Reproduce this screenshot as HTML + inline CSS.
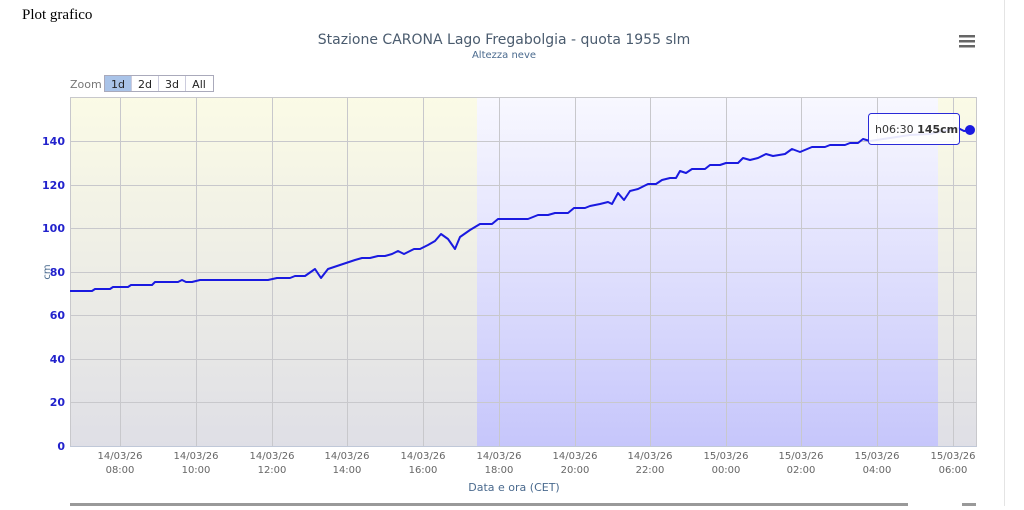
<!DOCTYPE html><html><head><style>
body{margin:0;width:1024px;height:506px;background:#fff;overflow:hidden;font-family:"DejaVu Sans","Liberation Sans",sans-serif}
</style></head><body>
<svg width="1024" height="506" xmlns="http://www.w3.org/2000/svg">
<defs>
<linearGradient id="y" x1="0" y1="0" x2="0" y2="1"><stop offset="0" stop-color="#fbfbe6"/><stop offset="1" stop-color="#dfdfe6"/></linearGradient>
<linearGradient id="b" x1="0" y1="0" x2="0" y2="1"><stop offset="0" stop-color="#f8f8ff"/><stop offset="1" stop-color="#c6c6fb"/></linearGradient>
</defs>
<text x="22" y="19" font-family="Liberation Serif,serif" font-size="15" fill="#000">Plot grafico</text>
<text x="504" y="44" text-anchor="middle" font-size="14" fill="#4a5b6e">Stazione CARONA Lago Fregabolgia - quota 1955 slm</text>
<text x="504" y="58" text-anchor="middle" font-size="10" fill="#4a6a8e">Altezza neve</text>
<g fill="#666"><rect x="959" y="35" width="16" height="2.5"/><rect x="959" y="40" width="16" height="2.5"/><rect x="959" y="45" width="16" height="2.5"/></g>
<text x="70" y="88" font-size="11" fill="#777">Zoom</text>
<rect x="104.5" y="75.5" width="109" height="16" fill="#fff" stroke="#aab"/>
<rect x="105" y="76" width="26" height="15" fill="#a9c3e8"/>
<line x1="131.5" y1="76" x2="131.5" y2="91" stroke="#ccd"/><line x1="158.5" y1="76" x2="158.5" y2="91" stroke="#ccd"/><line x1="185.5" y1="76" x2="185.5" y2="91" stroke="#ccd"/>
<g font-size="11" fill="#222" text-anchor="middle"><text x="118" y="88">1d</text><text x="145" y="88">2d</text><text x="172" y="88">3d</text><text x="199" y="88">All</text></g>
<rect x="70" y="97" width="407" height="349" fill="url(#y)"/>
<rect x="477" y="97" width="461" height="349" fill="url(#b)"/>
<rect x="938" y="97" width="39" height="349" fill="url(#y)"/>
<g stroke="#c8c8cc" stroke-width="1">
<line x1="70" y1="97.5" x2="977" y2="97.5"/>
<line x1="70" y1="141.5" x2="977" y2="141.5"/><line x1="70" y1="185.5" x2="977" y2="185.5"/><line x1="70" y1="228.5" x2="977" y2="228.5"/><line x1="70" y1="272.5" x2="977" y2="272.5"/><line x1="70" y1="315.5" x2="977" y2="315.5"/><line x1="70" y1="359.5" x2="977" y2="359.5"/><line x1="70" y1="402.5" x2="977" y2="402.5"/>
<line x1="120.5" y1="97" x2="120.5" y2="446"/><line x1="196.5" y1="97" x2="196.5" y2="446"/><line x1="272.5" y1="97" x2="272.5" y2="446"/><line x1="347.5" y1="97" x2="347.5" y2="446"/><line x1="423.5" y1="97" x2="423.5" y2="446"/><line x1="499.5" y1="97" x2="499.5" y2="446"/><line x1="575.5" y1="97" x2="575.5" y2="446"/><line x1="650.5" y1="97" x2="650.5" y2="446"/><line x1="726.5" y1="97" x2="726.5" y2="446"/><line x1="801.5" y1="97" x2="801.5" y2="446"/><line x1="877.5" y1="97" x2="877.5" y2="446"/><line x1="953.5" y1="97" x2="953.5" y2="446"/>
<line x1="70.5" y1="97" x2="70.5" y2="446"/><line x1="976.5" y1="97" x2="976.5" y2="446"/>
</g>
<line x1="70" y1="446.5" x2="977" y2="446.5" stroke="#c0c8d8"/>
<g font-size="11" fill="#2222cc" font-weight="bold" text-anchor="end"><text x="65" y="145">140</text><text x="65" y="189">120</text><text x="65" y="232">100</text><text x="65" y="276">80</text><text x="65" y="319">60</text><text x="65" y="363">40</text><text x="65" y="406">20</text><text x="65" y="450">0</text></g>
<text x="50" y="272" font-size="10" fill="#4a6a8e" transform="rotate(-90 50 272)" text-anchor="middle">cm</text>
<g font-size="10" fill="#666" text-anchor="middle">
<text x="120" y="459">14/03/26</text><text x="120" y="473">08:00</text>
<text x="196" y="459">14/03/26</text><text x="196" y="473">10:00</text>
<text x="272" y="459">14/03/26</text><text x="272" y="473">12:00</text>
<text x="347" y="459">14/03/26</text><text x="347" y="473">14:00</text>
<text x="423" y="459">14/03/26</text><text x="423" y="473">16:00</text>
<text x="499" y="459">14/03/26</text><text x="499" y="473">18:00</text>
<text x="575" y="459">14/03/26</text><text x="575" y="473">20:00</text>
<text x="650" y="459">14/03/26</text><text x="650" y="473">22:00</text>
<text x="726" y="459">15/03/26</text><text x="726" y="473">00:00</text>
<text x="801" y="459">15/03/26</text><text x="801" y="473">02:00</text>
<text x="877" y="459">15/03/26</text><text x="877" y="473">04:00</text>
<text x="953" y="459">15/03/26</text><text x="953" y="473">06:00</text>
</g>
<text x="514" y="491" font-size="11" fill="#4a6a8e" text-anchor="middle">Data e ora (CET)</text>
<rect x="70" y="503" width="838" height="3" fill="#999"/>
<rect x="962" y="503" width="14" height="3" fill="#999"/>
<rect x="1004" y="0" width="1" height="506" fill="#e4e4e4"/>
<polyline fill="none" stroke="#1a1ae0" stroke-width="2" stroke-linejoin="round" points="70,291 92,291 95,289 110,289 113,287 128,287 131,285 152,285 155,282 178,282 182,280 186,282 192,282 200,280 268,280 277,278 290,278 295,276 305,276 315,269 321,278 328,269 340,265 355,260 362,258 370,258 378,256 385,256 392,254 398,251 404,254 414,249 420,249 428,245 435,241 441,234 448,239 455,249 460,237 470,230 480,224 492,224 498,219 528,219 538,215 548,215 555,213 568,213 574,208 585,208 590,206 600,204 608,202 612,204 618,193 624,200 630,191 638,189 648,184 656,184 662,180 670,178 676,178 680,171 686,173 692,169 705,169 710,165 720,165 726,163 738,163 743,158 750,160 758,158 766,154 773,156 785,154 792,149 800,152 812,147 825,147 830,145 845,145 850,143 858,143 863,139 870,141 890,138 910,135 930,134 958,128 964,131 970,130"/>
<circle cx="970" cy="130" r="5" fill="#1a1ae0"/>
<rect x="868.5" y="113.5" width="91" height="31" rx="3" fill="#fff" fill-opacity="0.9" stroke="#2a2ad8"/>
<text x="875" y="133" font-size="11" fill="#333">h06:30 <tspan font-weight="bold">145cm</tspan></text>
</svg>
</body></html>
